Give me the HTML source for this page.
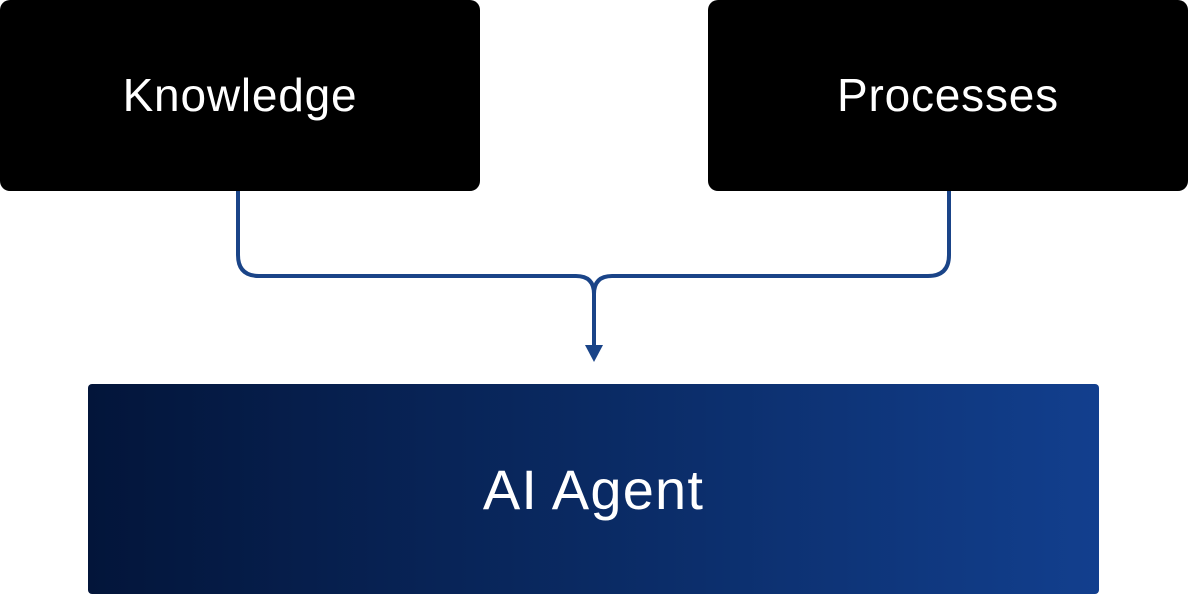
<!DOCTYPE html>
<html><head><style>
html,body{margin:0;padding:0;background:#fff;width:1188px;height:594px;overflow:hidden;position:relative;font-family:"Liberation Sans",sans-serif}
.b{position:absolute;background:#000;color:#fff;border-radius:10px;display:flex;align-items:center;justify-content:center;font-size:46px;letter-spacing:0.8px}
.a{position:absolute;left:88px;top:384px;width:1011px;height:210px;border-radius:4px;background:linear-gradient(90deg,#03153a 0%,#0a2a63 50%,#123f8e 100%);color:#fff;display:flex;align-items:center;justify-content:center;font-size:56px;letter-spacing:1.2px}
</style></head><body>
<div class="b" style="left:0;top:0;width:480px;height:191px"><span style="margin-top:-2px">Knowledge</span></div>
<div class="b" style="left:708px;top:0;width:480px;height:191px"><span style="margin-top:-2px">Processes</span></div>
<svg width="1188" height="594" style="position:absolute;left:0;top:0">
<path d="M238 191 V255 Q238 276 259 276 H576 Q594 276 594 294 Q594 276 612 276 H928 Q949 276 949 255 V191" fill="none" stroke="#1a4488" stroke-width="4"/>
<path d="M594 294 V348" stroke="#1a4488" stroke-width="4"/>
<path d="M585 345 H603 L594 362 Z" fill="#1a4488"/>
</svg>
<div class="a">AI Agent</div>
</body></html>
